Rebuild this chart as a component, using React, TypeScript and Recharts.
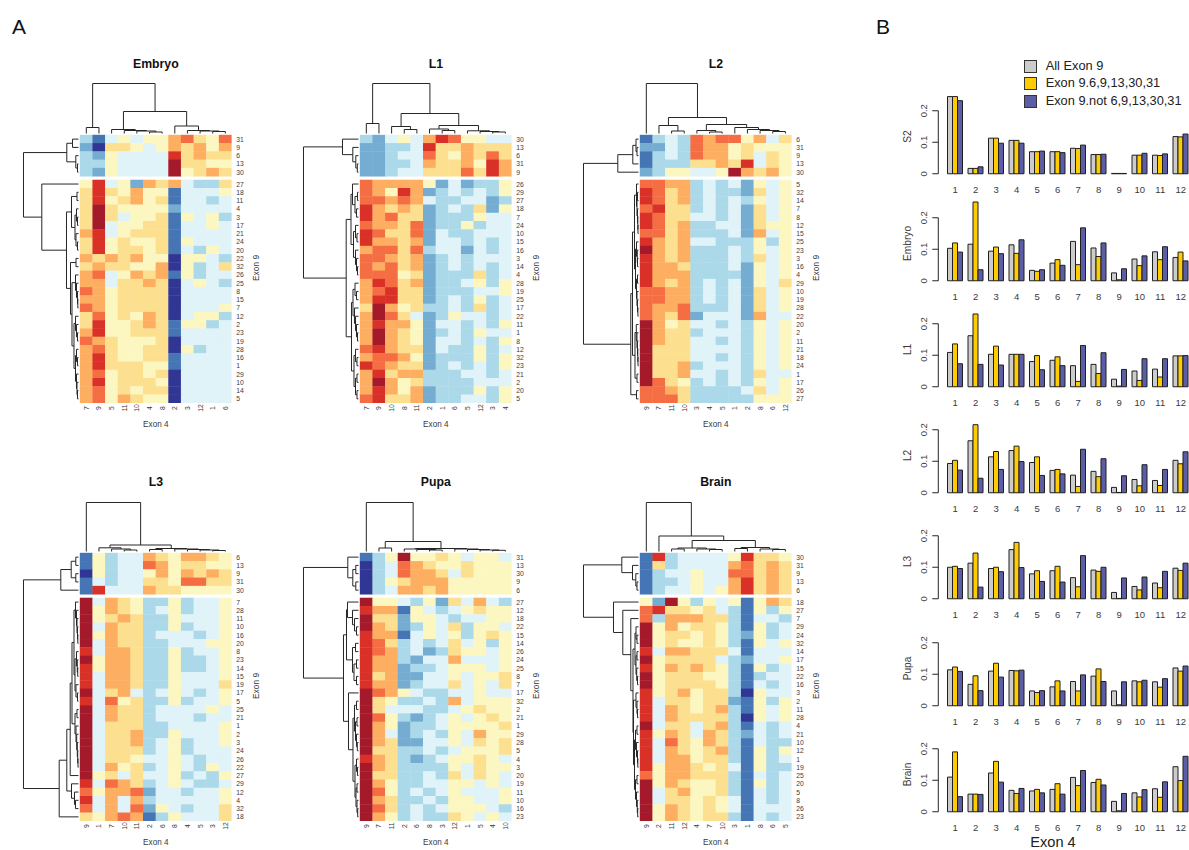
import React from 'react';
import { ScatterChart, Scatter, XAxis, YAxis, ReferenceLine, BarChart, Bar, Legend } from 'recharts';

const FONT = '"Liberation Sans", Arial, sans-serif';
const palette = ['#313695', '#4575b4', '#74add1', '#abd9e9', '#e0f3f8', '#fcf7c0', '#fddf90', '#fdae61', '#f46d43', '#d93127', '#a51a2b'];

// ---------- heatmap data: one hex-like level per cell, rows top to bottom ----------
const embryoCols = [7, 9, 5, 11, 10, 4, 8, 2, 3, 12, 1, 6];
const embryoRows = [31, 9, 6, 13, 30, 27, 18, 11, 4, 3, 17, 21, 24, 20, 22, 32, 26, 25, 8, 15, 7, 12, 2, 23, 19, 28, 16, 1, 29, 10, 14, 5];
const embryoCells = ['314545578658', '206654576757', '325444496766', '3354444a6655', '3254444a5676',
  '594527674336', '696575514445', '695675614434', '6a6555524444', '6a6455615453', '6a4556614454', '794566614444', '695655615444', '695665614354',
  '767675505543', '676655705346', '784576715344', '774667604543', '875666604444', '775666604444', '875666604445', '685657604553',
  '695567615534', '795566614444', '876555604444', '786556605344', '796556614444', '796665514444', '785665604444', '795666504444', '785656604444', '785765504444'];
const embryoColTree = [50, [6, 0, 0], [22, [4, 0, [3, 0, [2.5, 0, [1.5, 0, 0]]]], [7.5, 0, [3, 0, [2.5, 0, [2, 0, 0]]]]]];
const embryoRowTree = [55, [11.7, [6, 0, 0], [2.7, 0, [1, 0, 0]]],
  [36.7, 0, [12, [7, [1.5, 0, 0], [3.5, [2, 0, [1, 0, 0]], [2.5, 0, [1, 0, 0]]]],
    [8, [2.5, 0, 0], [6.5, [3, 0, [2, 0, [1, 0, [.7, 0, 0]]]], [4.5, [3, 0, [2, 0, [1, 0, 0]]], [3, [2, 0, [1, 0, 0]], [2, 0, [1.5, 0, [1, 0, 0]]]]]]]]]];

const l1Cols = [7, 9, 10, 8, 11, 2, 1, 6, 5, 12, 3, 4];
const l1Rows = [30, 13, 6, 31, 9, 26, 29, 27, 18, 7, 24, 10, 15, 16, 3, 14, 4, 28, 19, 25, 17, 22, 11, 1, 8, 12, 32, 23, 21, 2, 20, 5];
const l1Cells = ['324547985544', '223349667666', '223448657686', '223347667597', '223446668697',
  '877775242335', '875972343435', '887874334423', '976762343625', '978662333544', '877682335344', '986682433444', '977672443434', '788683442434',
  '887672343444', '878672343434', '888562333634', '798672334535', '789662333445', '799662343534', '6a7563343634', '7a8642354434', '797752443435',
  '7a7652343544', '7a7652443435', '897662433534', '788752333535', '987662343435', '796773334434', '7a7563333444', '797572333535', '896672334435'];
const l1ColTree = [50, [10, 0, 0], [20, [7, 0, [4, 0, 0]], [8, [4.5, 0, [3, 0, 0]], [2.7, 0, [2, 0, [1.5, 0, 0]]]]]];
const l1RowTree = [55, [16, 0, [5.7, 0, [2.7, 0, [1.2, 0, 0]]]],
  [12.3, [7.5, [6, 0, [3.5, [1, 0, 0], [2, 0, 0]]], [5, [3, 0, [1.5, 0, 0]], [3, 0, [2, 0, [1, 0, 0]]]]],
    [7, [5.5, [3.5, 0, [2, 0, 0]], [4, 0, [3, 0, [2, 0, [1, 0, 0]]]]], [4.5, [3, 0, [1.5, 0, 0]], [3, [1.5, 0, 0], [1.5, 0, 0]]]]]];

const l2Cols = [9, 7, 11, 10, 3, 4, 5, 1, 2, 8, 6, 12];
const l2Rows = [6, 31, 9, 13, 30, 5, 32, 14, 7, 8, 12, 15, 25, 23, 3, 16, 4, 29, 10, 19, 28, 22, 20, 2, 11, 21, 18, 24, 1, 17, 26, 27];
const l2Cells = ['134387885746', '224387756555', '134387756465', '133366769465', '2355445a7675',
  '887734342545', '986734332645', '986734343545', '896634342645', '986644342645', '986733442655', '886733342745', '976744333535', 'a76733343545', '976733343645',
  '977633342545', '977733332545', '976734342546', '887734342645', '887734342645', '877833342645', '876824442744', 'a75644343545', 'a76634443545', 'a76644343545',
  'a66644443545', 'a66644343545', 'a66734443545', 'a66744343644', 'a86534343545', '887633334645', '888633333555'];
const l2ColTree = [50, 0, [16, [8, 0, [2.5, 0, 0]], [9, [3, 0, [1.5, 0, 0]], [6, 0, [4, 0, [3, 0, [2, 0, 0]]]]]]];
const l2RowTree = [55, [20.7, [5.7, [2.5, 0, [1.5, 0, 0]], 0], 0],
  [7.7, [6, [4, [2, 0, [1.5, [1, 0, 0], [1, 0, [.7, 0, [.5, 0, 0]]]]], [3, [2, 0, [1.2, 0, [1, 0, 0]]], [2, [1, 0, 0], [1.5, 0, [1, 0, [.6, 0, 0]]]]]],
    [3.5, [2.2, 0, [1.5, 0, [1, 0, [.7, 0, [.5, 0, 0]]]]], [1.5, 0, 0]]], [2, 0, 0]]];

const l3Cols = [9, 1, 7, 10, 11, 2, 6, 8, 4, 5, 3, 12];
const l3Rows = [6, 13, 9, 31, 30, 7, 28, 11, 10, 16, 20, 8, 23, 14, 15, 19, 17, 5, 25, 21, 1, 2, 3, 24, 26, 22, 27, 29, 12, 4, 32, 18];
const l3Cells = ['153447657765', '153448756655', '053445757676', '143446658866', '194447665555',
  'a47653353445', 'a57653453445', 'a56763354445', 'a47663353445', 'a57663444345', 'a47663344455', '947763353445', 'a57763353345', '957763353345', '947763354445',
  '947763354446', 'a46743454345', '948563353445', 'a47663444454', 'a47663444344', 'a46663344445', 'a46673354445', 'a46673453445', 'a46663453444', 'a46654454344',
  'a47563454354', 'a56464453435', '948763454334', '857782443445', '947473444445', '847482543446', '657871354446'];
const l3ColTree = [49, 0, [6.5, [3.7, 0, [2.5, 0, [1.5, 0, 0]]], [3, [2, 0, 0], [2.5, 0, [2, 0, [1.5, 0, [1, 0, 0]]]]]]];
const l3RowTree = [55, [17.7, [7.3, [2.7, 0, 0], [2.7, 0, 0]], 0],
  [19.3, [11.7, [8.3, [6.5, [4.5, [3, 0, [2, 0, [1.5, 0, [1, 0, [.7, 0, 0]]]]], [3.5, [2, 0, [1.2, 0, [.8, 0, 0]]], [2.5, 0, [1, 0, 0]]]],
    [3.5, [1.5, 0, 0], [2.5, 0, [1.8, 0, [1.2, 0, [.8, 0, [.5, 0, 0]]]]]]], 0], [7, 0, [4, 0, [3, 0, 0]]]], 0]];

const pupaCols = [9, 7, 11, 2, 6, 8, 3, 12, 1, 5, 4, 10];
const pupaRows = [31, 13, 30, 9, 6, 27, 12, 18, 22, 15, 14, 26, 24, 25, 8, 7, 17, 32, 2, 21, 1, 29, 28, 5, 4, 3, 20, 19, 11, 10, 16, 23];
const pupaCells = ['135a55654554', '034876556555', '034877646555', '035677755555', '034776755555',
  'a55435264743', '977154345655', 'a66255434455', 'a76235463554', '977145453565', '986343464535', '987342365545', '977324474445', '977233455545', '967224454556',
  '977234464546', 'a87543344544', 'a65334374555', 'a64443345655', 'a85323454565', 'a75233455556', 'a74234354755', 'a76224454656', 'a66334345556',
  '976323455654', 'a76333354655', 'a66334364654', 'a75334455454', 'a85343454445', 'a76334355445', 'a86343455543', 'a75343365454'];
const pupaColTree = [49, 0, [10, [3.5, 0, 0], [3, [2.5, 0, [2, 0, [1.5, 0, 0]]], [2.5, 0, [2, 0, [1.5, 0, [1.2, 0, 0]]]]]]];
const pupaRowTree = [55, [10.7, 0, [5.7, [2.7, 0, 0], [2.7, 0, 0]]],
  [15, [12, [11, 0, [6, 0, [4, 0, [2, 0, 0]]]], [6, [3, 0, 0], [4.5, [2, 0, 0], [2, 0, 0]]]],
    [10, 0, [5.5, [4, [2, 0, 0], [3, [1.5, 0, 0], [2, 0, [1.2, 0, 0]]]], [3.5, [2, 0, [1, 0, 0]], [2.5, [1.5, 0, 0], [1.5, 0, [.8, 0, 0]]]]]]]];

const brainCols = [9, 2, 11, 12, 4, 7, 10, 3, 1, 8, 6, 5];
const brainRows = [30, 31, 9, 13, 6, 18, 27, 7, 29, 24, 32, 14, 17, 15, 22, 16, 3, 2, 11, 28, 4, 21, 10, 12, 1, 19, 25, 20, 5, 8, 26, 23];
const brainCells = ['193444459665', '163444478676', '134454488676', '133454479676', '134454579676',
  '52a535451576', '896656431535', '837776631443', 'a57566531534', 'a56656532534', 'a56556531545', '947766641444', 'a56666432445', '957676531534', 'a56665531344',
  'a56666531434', '956756630544', '946656621535', '947656731545', '947666630545', 'a46646731434', '957647632434', '948657631433', '947656731535', '947756631534',
  '957765641533', '857766631434', 'a57655631534', 'a46755631434', 'a46656541434', 'a57656541444', 'a57656631434'];
const brainColTree = [49, 0, [15.5, 0, [11, [3.5, [2.5, 0, 0], [2.5, 0, [2, 0, 0]]], [4, [3, 0, 0], [2.5, 0, [2, 0, 0]]]]]];
const brainRowTree = [55, [16.7, 0, [6, 0, [2.7, 0, [1.5, 0, 0]]]],
  [25, 0, [15.7, 0, [7.7, 0, [5.5, [3.5, [2.5, 0, [1.5, 0, 0]], [2.5, [1.5, 0, 0], [1.8, 0, [1, 0, 0]]]],
    [5, [2.5, 0, [1.5, 0, [1, 0, 0]]], [4, [3, [1.5, 0, 0], [2, 0, [1, 0, [.7, 0, 0]]]], [3, [1.5, 0, 0], [2, 0, [1.2, 0, [.8, 0, 0]]]]]]]]]]];

// ---------- bar data ----------
const exons = [1, 2, 3, 4, 5, 6, 7, 8, 9, 10, 11, 12];
const seriesNames = ['All Exon 9', 'Exon 9.6,9,13,30,31', 'Exon 9.not 6,9,13,30,31'];
const seriesColors = ['#cccccc', '#ffcc00', '#5b5ea6'];
const s2All = [.245, .017, .113, .106, .07, .07, .081, .061, .001, .059, .059, .118];
const s2Six = [.245, .017, .113, .106, .07, .07, .08, .061, .001, .059, .058, .117];
const s2Not = [.232, .022, .097, .097, .072, .067, .091, .062, .001, .065, .063, .126];
const embryoAll = [.103, .116, .094, .114, .033, .056, .125, .104, .025, .069, .092, .074];
const embryoSix = [.12, .25, .107, .087, .03, .067, .051, .077, .003, .048, .067, .091];
const embryoNot = [.091, .035, .086, .13, .035, .049, .168, .12, .038, .079, .108, .063];
const l1All = [.109, .162, .103, .103, .08, .084, .067, .071, .024, .05, .056, .098];
const l1Six = [.136, .231, .129, .103, .099, .095, .017, .042, .002, .02, .031, .098];
const l1Not = [.073, .071, .069, .103, .054, .067, .131, .108, .055, .089, .089, .099];
const l2All = [.093, .165, .114, .134, .096, .071, .056, .068, .017, .042, .039, .103];
const l2Six = [.103, .216, .131, .148, .114, .074, .02, .051, .001, .022, .023, .092];
const l2Not = [.072, .046, .074, .099, .055, .06, .138, .108, .054, .089, .074, .13];
const l3All = [.1, .113, .096, .156, .079, .089, .067, .091, .02, .039, .05, .097];
const l3Six = [.103, .145, .1, .179, .089, .103, .038, .087, .001, .028, .035, .09];
const l3Not = [.096, .037, .086, .099, .055, .053, .137, .1, .066, .069, .087, .113];
const pupaAll = [.114, .068, .11, .112, .047, .06, .077, .094, .047, .079, .076, .12];
const pupaSix = [.123, .095, .135, .111, .042, .079, .047, .117, .003, .076, .059, .11];
const pupaNot = [.109, .048, .091, .113, .048, .047, .098, .077, .076, .081, .086, .126];
const brainAll = [.11, .056, .123, .068, .066, .071, .109, .093, .033, .06, .073, .143];
const brainSix = [.19, .056, .16, .058, .071, .089, .083, .103, .003, .047, .046, .099];
const brainNot = [.048, .055, .094, .074, .06, .056, .131, .085, .058, .07, .095, .176];

// ---------- layout constants ----------
const CELL_W = 151.7 / 12;
const ROW_H = (268 - 3.6) / 32;
const GAP = 3.6 / ROW_H;
const DEND_W = 60;
const DEND_H = 56;
const TOP_M = 35;
const PLOT_W = DEND_W + 151.7;
const PLOT_H = DEND_H + 268;
const TEXT = '#3a3a3a';
const LINE = '#262626';

type Tree = number | any[];
function layoutTree(tree: Tree, leaves: number[]) {
  let next = 0;
  const segs: number[][] = [];
  const walk = (n: any): { p: number; h: number } => {
    if (!Array.isArray(n)) return { p: leaves[next++], h: 0 };
    const a = walk(n[1]);
    const b = walk(n[2]);
    segs.push([a.p, n[0], b.p, n[0]], [a.p, a.h, a.p, n[0]], [b.p, b.h, b.p, n[0]]);
    return { p: (a.p + b.p) / 2, h: n[0] };
  };
  walk(tree);
  return segs;
}

const rowCentre = (i: number) => (i < 5 ? i + 0.5 : i + 0.5 + GAP);

function HeatCell(props: any) {
  const { cx, cy, payload } = props;
  return <rect x={cx - CELL_W / 2 - 0.2} y={cy - ROW_H / 2 - 0.2} width={CELL_W + 0.4} height={ROW_H + 0.4} fill={payload.fill} stroke="none" />;
}

function Heatmap({ title, left, top, cols, rows, cells, colTree, rowTree }: any) {
  const data: any[] = [];
  cells.forEach((row: string, r: number) => {
    row.split('').slice(0, 12).forEach((ch: string, c: number) => {
      data.push({ x: c + 0.5, y: rowCentre(r), fill: palette[parseInt(ch, 16)] });
    });
  });
  const colSegs = layoutTree(colTree, cols.map((_: number, i: number) => i + 0.5));
  const rowSegs = layoutTree(rowTree, rows.map((_: number, i: number) => rowCentre(i)));
  const toY = (h: number) => -(h + 1.5) / ROW_H;
  const toX = (h: number) => -(h + 1.5) / CELL_W;
  return (
    <div style={{ position: 'absolute', left, top: top - DEND_H - TOP_M }}>
      <ScatterChart width={PLOT_W + 50} height={PLOT_H + TOP_M + 40} margin={{ top: TOP_M, right: 0, bottom: 0, left: 0 }}>
        <XAxis
          dataKey="x" type="number" xAxisId={0} height={40} domain={[-DEND_W / CELL_W, 12]} allowDataOverflow
          ticks={cols.map((_: number, i: number) => i + 0.5)} interval={0} axisLine={false} tickLine={false} tickSize={0}
          tick={(p: any) => {
            const label = cols[Math.floor(p.payload.value)];
            return <text transform={`translate(${p.x},${PLOT_H + TOP_M + 5}) rotate(-90)`} textAnchor="middle" dominantBaseline="central" fontSize={6.8} fill={TEXT}>{label}</text>;
          }}
        />
        <YAxis
          dataKey="y" type="number" yAxisId={0} orientation="right" reversed width={50} domain={[-DEND_H / ROW_H, 32 + GAP]} allowDataOverflow
          ticks={rows.map((_: number, i: number) => rowCentre(i))} interval={0} axisLine={false} tickLine={false} tickSize={0}
          tick={(p: any) => {
            const v = p.payload.value;
            const label = rows[v < 5 ? Math.floor(v) : Math.floor(v - GAP)];
            return <text x={PLOT_W + 4.5} y={p.y} dominantBaseline="central" fontSize={6.8} fill={TEXT}>{label}</text>;
          }}
        />
        <Scatter data={data} isAnimationActive={false} shape={HeatCell} />
        {colSegs.map((s, i) => (
          <ReferenceLine key={'c' + i} ifOverflow="visible" stroke={LINE} strokeWidth={1}
            segment={[{ x: s[0], y: toY(s[1]) }, { x: s[2], y: toY(s[3]) }]} />
        ))}
        {rowSegs.map((s, i) => (
          <ReferenceLine key={'r' + i} ifOverflow="visible" stroke={LINE} strokeWidth={1}
            segment={[{ x: toX(s[1]), y: s[0] }, { x: toX(s[3]), y: s[2] }]} />
        ))}
        <text x={DEND_W + 75.85} y={TOP_M + DEND_H - 71} textAnchor="middle" dominantBaseline="central" fontSize={12.3} fontWeight="bold" fill="#111">{title}</text>
        <text x={DEND_W + 75.85} y={TOP_M + DEND_H + 290} textAnchor="middle" dominantBaseline="central" fontSize={8.2} fill={TEXT}>Exon 4</text>
        <text transform={`translate(${DEND_W + 176},${TOP_M + DEND_H + 133}) rotate(-90)`} textAnchor="middle" dominantBaseline="central" fontSize={8.4} fill={TEXT}>Exon 9</text>
      </ScatterChart>
    </div>
  );
}

// ---------- bars ----------
const BAR_BOX_LEFT = 890;
const Y_W = 55;
const BAND = 20.5;
const PX_PER_UNIT = 315;
const BAR_H = 0.25 * PX_PER_UNIT;

function BarTick(p: any) {
  const v = p.payload.value;
  const ax = Y_W - 6.7;
  return (
    <g>
      <line x1={ax - 6} x2={ax} y1={p.y} y2={p.y} stroke={LINE} />
      {v === 0 ? <line x1={ax} x2={ax} y1={p.y} y2={p.y - 0.2 * PX_PER_UNIT} stroke={LINE} /> : null}
      <text transform={`translate(${ax - 15},${p.y}) rotate(-90)`} textAnchor="middle" dominantBaseline="central" fontSize={9.5} fill={TEXT}>{v === 0 ? '0' : String(v)}</text>
    </g>
  );
}

function LegendBox({ payload }: any) {
  return (
    <div style={{ fontFamily: FONT }}>
      {(payload || []).map((e: any, i: number) => (
        <div key={i} style={{ position: 'absolute', left: 0, top: [0, 17.2, 35.2][i], height: 12, width: 170, whiteSpace: 'nowrap' }}>
          <span style={{ position: 'absolute', left: 0, top: 0, width: 10.5, height: 10.5, background: seriesColors[i], border: '1px solid #333' }} />
          <span style={{ position: 'absolute', left: 21.4, top: -1, fontSize: 12.8, lineHeight: '14px', color: '#222' }}>{e.value}</span>
        </div>
      ))}
    </div>
  );
}

function BarPanel({ name, baseline, all, six, not, legend, footer }: any) {
  const data = exons.map((e, i) => ({ exon: e, a: all[i], b: six[i], c: not[i] }));
  const topM = legend ? 60 : 5;
  const xH = footer ? 48 : 22;
  const height = topM + BAR_H + xH;
  return (
    <div style={{ position: 'absolute', left: BAR_BOX_LEFT, top: baseline - BAR_H - topM }}>
      <BarChart width={Y_W + BAND * 12} height={height} data={data} margin={{ top: topM, right: 0, bottom: 0, left: 0 }} barCategoryGap={2.5} barGap={0}>
        <XAxis dataKey="exon" height={xH} interval={0} axisLine={false} tickLine={false} tickSize={0}
          tick={(p: any) => <text x={p.x} y={topM + BAR_H + 15.3} textAnchor="middle" dominantBaseline="central" fontSize={9.5} fill={TEXT}>{p.payload.value}</text>} />
        <YAxis width={Y_W} domain={[0, 0.25]} ticks={[0, 0.1, 0.2]} interval={0} axisLine={false} tickLine={false} tickSize={0} tick={BarTick} />
        {seriesNames.map((n, i) => (
          <Bar key={n} name={n} dataKey={['a', 'b', 'c'][i]} fill={seriesColors[i]} stroke="#1f1f1f" strokeWidth={1} isAnimationActive={false} />
        ))}
        {legend ? (
          <Legend layout="vertical" align="center" verticalAlign="middle" content={LegendBox}
            wrapperStyle={{ left: 134.3, top: topM + BAR_H + (60 - 174), width: 180, height: 50 }} />
        ) : null}
        <text transform={`translate(17,${topM + BAR_H - 37.3}) rotate(-90)`} textAnchor="middle" dominantBaseline="central" fontSize={10.2} fill={TEXT}>{name}</text>
        {footer ? <text x={163} y={topM + BAR_H + 30.5} textAnchor="middle" dominantBaseline="central" fontSize={14.6} fill="#222">Exon 4</text> : null}
      </BarChart>
    </div>
  );
}

export default function App() {
  return (
    <div style={{ position: 'absolute', left: 0, top: 0, width: 1189, height: 850, overflow: 'hidden', background: '#fff', fontFamily: FONT }}>
      <div style={{ position: 'absolute', left: 12, top: 15, fontSize: 21, lineHeight: '24px', color: '#111' }}>A</div>
      <div style={{ position: 'absolute', left: 876, top: 15, fontSize: 21, lineHeight: '24px', color: '#111' }}>B</div>
      <Heatmap title="Embryo" left={20} top={135} cols={embryoCols} rows={embryoRows} cells={embryoCells} colTree={embryoColTree} rowTree={embryoRowTree} />
      <Heatmap title="L1" left={300} top={135} cols={l1Cols} rows={l1Rows} cells={l1Cells} colTree={l1ColTree} rowTree={l1RowTree} />
      <Heatmap title="L2" left={580} top={135} cols={l2Cols} rows={l2Rows} cells={l2Cells} colTree={l2ColTree} rowTree={l2RowTree} />
      <Heatmap title="L3" left={20} top={552.7} cols={l3Cols} rows={l3Rows} cells={l3Cells} colTree={l3ColTree} rowTree={l3RowTree} />
      <Heatmap title="Pupa" left={300} top={552.7} cols={pupaCols} rows={pupaRows} cells={pupaCells} colTree={pupaColTree} rowTree={pupaRowTree} />
      <Heatmap title="Brain" left={580} top={552.7} cols={brainCols} rows={brainRows} cells={brainCells} colTree={brainColTree} rowTree={brainRowTree} />
      <BarPanel name="S2" baseline={174} all={s2All} six={s2Six} not={s2Not} legend />
      <BarPanel name="Embryo" baseline={280.3} all={embryoAll} six={embryoSix} not={embryoNot} />
      <BarPanel name="L1" baseline={386.7} all={l1All} six={l1Six} not={l1Not} />
      <BarPanel name="L2" baseline={492.7} all={l2All} six={l2Six} not={l2Not} />
      <BarPanel name="L3" baseline={599} all={l3All} six={l3Six} not={l3Not} />
      <BarPanel name="Pupa" baseline={705.3} all={pupaAll} six={pupaSix} not={pupaNot} />
      <BarPanel name="Brain" baseline={811.7} all={brainAll} six={brainSix} not={brainNot} footer />
    </div>
  );
}
